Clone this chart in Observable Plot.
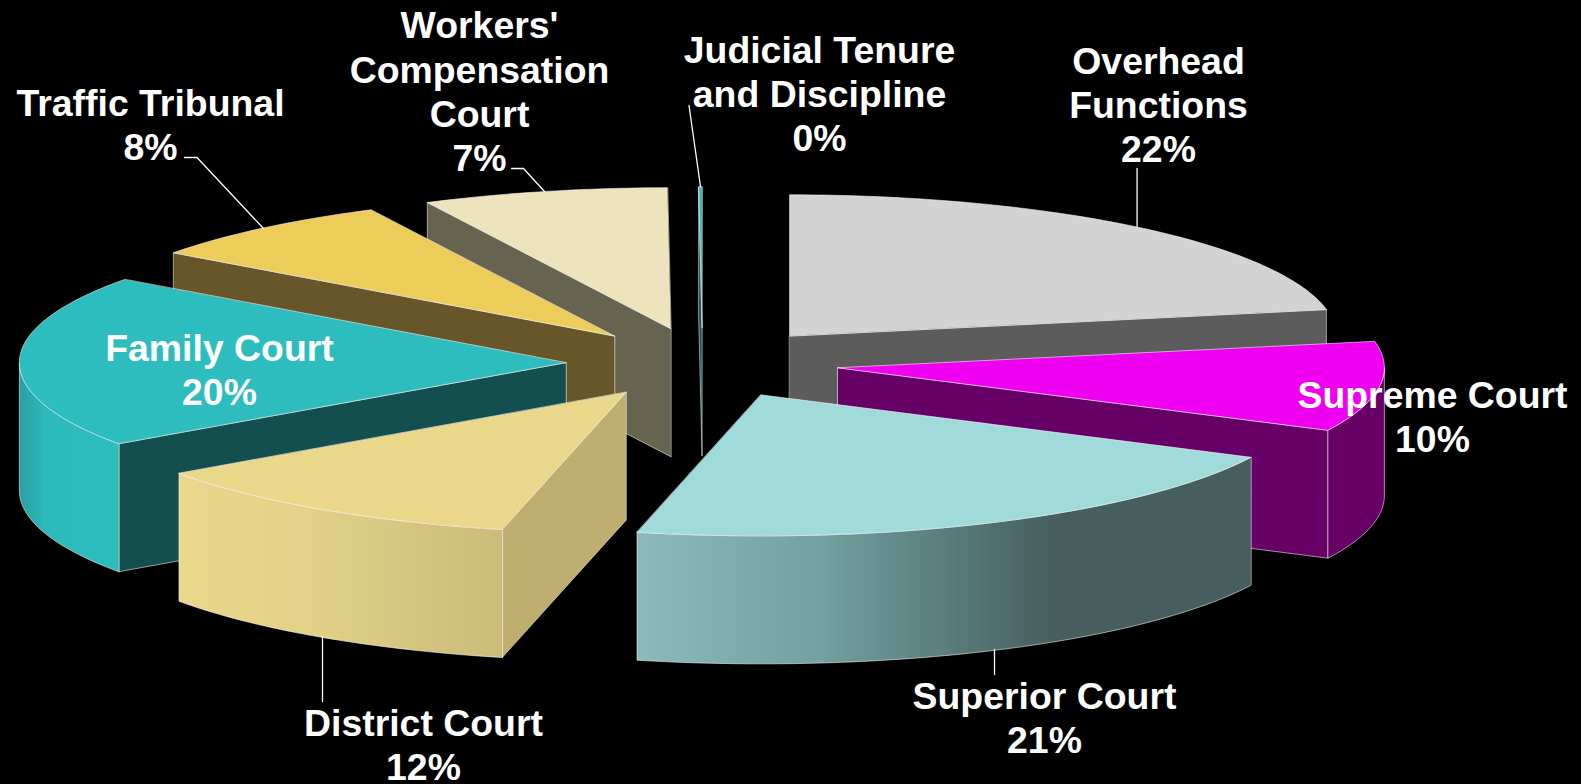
<!DOCTYPE html>
<html>
<head>
<meta charset="utf-8">
<style>
html,body{margin:0;padding:0;background:#000;overflow:hidden}
svg{display:block}
</style>
<script src="https://cdn.jsdelivr.net/npm/d3@7"></script>
<script src="https://cdn.jsdelivr.net/npm/@observablehq/plot@0.6"></script>
</head>
<body>
<div id="chart"></div>
<script>
// Data (clockwise from 12 o'clock)
const courts = ["Overhead\nFunctions", "Supreme Court", "Superior Court", "District Court", "Family Court", "Traffic Tribunal", "Workers'\nCompensation\nCourt", "Judicial Tenure\nand Discipline"];
const shares = [22, 10.3, 21.34, 11.61, 19.8, 7.6, 7.25, 0.1];

// Styles, one per slice
const topColors  = ["#d3d3d3", "#f000f0", "#a0dadb", "#e9d78a", "#2dbdbe", "#eccd59", "#ede3bd", "#3fb5b8"];
const cutColors  = ["#5c5c5c", "#660066", "#465e5e", "#bfae6f", "#134f4f", "#66562a", "#66634f", "#134f4f"];
const wallStops  = [
  [["0%", "#5c5c5c"], ["100%", "#5c5c5c"]],
  [["0%", "#660066"], ["100%", "#660066"]],
  [["0%", "#8cbaba"], ["30%", "#73a0a0"], ["68%", "#465e5e"], ["100%", "#465e5e"]],
  [["0%", "#ead88b"], ["40%", "#e2d186"], ["100%", "#cbbb79"]],
  [["0%", "#2a9fa0"], ["25%", "#2db9ba"], ["100%", "#2dbdbe"]],
  [["0%", "#66562a"], ["100%", "#66562a"]],
  [["0%", "#66634f"], ["100%", "#66634f"]],
  [["0%", "#134f4f"], ["100%", "#134f4f"]]
];
const paintOrder = [7, 6, 5, 4, 3, 0, 1, 2];

// Layout of the pie and its labels
const pie = {cx: 702, cy: 362.5, a: 546.5, b: 141, depth: 128, explode: 0.25};
const labelX = [1158, 1432, 1044, 423, 219, 150, 479, 819];
const labelY = [103, 415, 716, 743, 368, 123, 90, 92];
const leaders = [
  [[1136.6, 168], [1136.6, 226]],
  [],
  [[994, 649], [994, 674]],
  [[322, 636], [322, 701]],
  [],
  [[184, 157], [196.5, 157], [263, 228]],
  [[511, 168], [523, 168], [544, 191]],
  [[688.5, 105], [700, 186]]
];

// Geometry derived from the shares
const total = d3.sum(shares);
const rad = d3.scaleLinear().domain([0, total]).range([0, 2 * Math.PI]);
const cum = d3.cumsum(shares);
const at = (c, t) => [c[0] + pie.a * Math.sin(t), c[1] - pie.b * Math.cos(t)];
const down = ([x, y]) => [x, y + pie.depth];
const arc = (c, t0, t1) => {
  const n = Math.max(2, Math.ceil((t1 - t0) / 0.02));
  return d3.range(n + 1).map(i => at(c, t0 + (t1 - t0) * i / n));
};
const quad = (p, q) => [p, q, down(q), down(p)];

const faces = [];
for (const i of paintOrder) {
  const t0 = rad(i ? cum[i - 1] : 0), t1 = rad(cum[i]), mid = (t0 + t1) / 2;
  const c = [pie.cx + pie.explode * pie.a * Math.sin(mid), pie.cy - pie.explode * pie.b * Math.cos(mid)];
  if (Math.sin(t1) > 0) faces.push({pts: quad(c, at(c, t1)), fill: cutColors[i]});
  if (Math.sin(t0) < 0) faces.push({pts: quad(c, at(c, t0)), fill: cutColors[i]});
  const w0 = Math.max(t0, Math.PI / 2), w1 = Math.min(t1, 3 * Math.PI / 2);
  if (w1 > w0) {
    const edge = arc(c, w0, w1);
    faces.push({pts: [...edge, ...edge.slice().reverse().map(down)], fill: `url(#wall${i})`});
  }
  faces.push({pts: [c, ...arc(c, t0, t1)], fill: topColors[i]});
}

const defs = () => {
  const d = d3.create("svg:defs");
  wallStops.forEach((stops, i) => {
    const g = d.append("linearGradient").attr("id", `wall${i}`);
    stops.forEach(([o, col]) => g.append("stop").attr("offset", o).attr("stop-color", col));
  });
  return d.node();
};

const labels = courts.map((name, i) => ({
  text: `${name}\n${Math.round(shares[i])}%`, x: labelX[i], y: labelY[i]
}));

const chart = Plot.plot({
  width: 1581,
  height: 784,
  margin: 0,
  style: {background: "#000"},
  x: {domain: [0, 1581], range: [0, 1581], axis: null},
  y: {domain: [0, 784], range: [0, 784], axis: null},
  marks: [
    defs,
    ...faces.map(f => Plot.line(f.pts, {
      x: d => d[0], y: d => d[1], curve: "linear-closed",
      fill: f.fill, stroke: "#ffffff", strokeOpacity: 0.55, strokeWidth: 1
    })),
    ...leaders.filter(l => l.length).map(l => Plot.line(l, {
      x: d => d[0], y: d => d[1], stroke: "#ffffff", strokeWidth: 1.3
    })),
    Plot.text(labels, {
      x: "x", y: "y", text: "text", fill: "#ffffff", textAnchor: "middle",
      fontFamily: "Liberation Sans", fontWeight: "bold", fontSize: 37.4, lineHeight: 1.18
    })
  ]
});
document.getElementById("chart").append(chart);
</script>
</body>
</html>
